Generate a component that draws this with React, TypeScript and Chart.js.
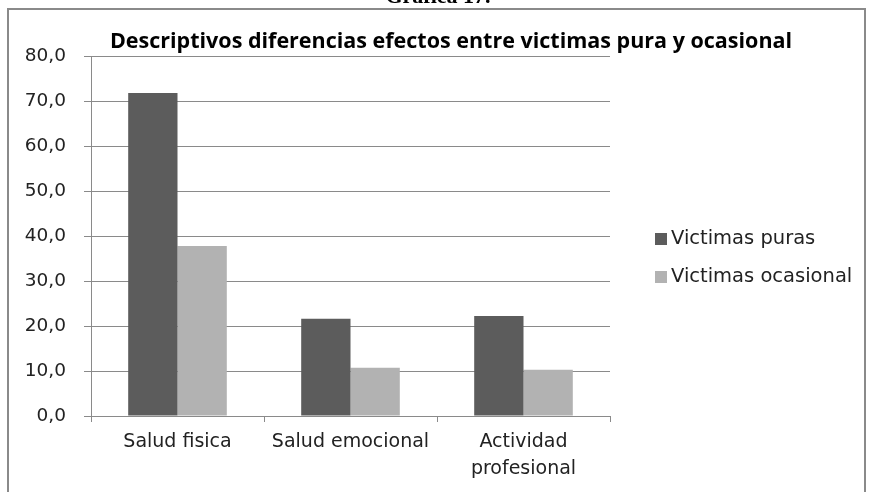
import React, { useEffect, useRef } from "react";
import { Chart, registerables } from "chart.js";

Chart.register(...registerables);

const categories: (string | string[])[] = ["Salud fisica", "Salud emocional", ["Actividad", "profesional"]];
const seriesNames = ["Victimas puras", "Victimas ocasional"];
const victimasPuras = [71.8, 21.6, 22.2];
const victimasOcasional = [37.8, 10.7, 10.3];
const seriesColors = ["#5c5c5c", "#b2b2b2"];
const chartTitle = "Descriptivos diferencias efectos entre victimas pura y ocasional";
const headerText = "Gráfica 17.";

const W = 869;
const H = 492;
const FONT = "'DejaVu Sans'";

const decorPlugin = {
  id: "decor",
  afterDraw(chart: any) {
    const ctx = chart.ctx as CanvasRenderingContext2D;
    ctx.save();
    // cropped header
    ctx.fillStyle = "#000";
    ctx.font = "bold 22px 'Liberation Serif'";
    ctx.textAlign = "center";
    ctx.textBaseline = "alphabetic";
    ctx.fillText(headerText, 438, 3);
    // frame
    ctx.strokeStyle = "#8a8a8a";
    ctx.lineWidth = 2;
    ctx.beginPath();
    ctx.moveTo(8, H + 2);
    ctx.lineTo(8, 9);
    ctx.lineTo(865, 9);
    ctx.lineTo(865, H + 2);
    ctx.stroke();
    // title
    ctx.fillStyle = "#000";
    ctx.font = "bold 21.5px 'Open Sans'";
    ctx.textAlign = "center";
    ctx.fillText(chartTitle, 451, 48);
    // legend
    const items = chart.data.datasets;
    ctx.font = "19.5px " + FONT;
    ctx.textAlign = "left";
    ctx.textBaseline = "middle";
    const ys = [239, 277];
    items.forEach((ds: any, i: number) => {
      ctx.fillStyle = ds.backgroundColor;
      ctx.fillRect(655, ys[i] - 6, 12, 12);
      ctx.fillStyle = "#222";
      ctx.fillText(ds.label, 671, ys[i]);
    });
    ctx.restore();
  },
};

export default function App() {
  const ref = useRef<HTMLCanvasElement>(null);
  useEffect(() => {
    document.body.style.margin = "0";
    const chart = new Chart(ref.current!, {
      type: "bar",
      data: {
        labels: categories,
        datasets: [
          { label: seriesNames[0], data: victimasPuras, backgroundColor: seriesColors[0] },
          { label: seriesNames[1], data: victimasOcasional, backgroundColor: seriesColors[1] },
        ],
      },
      options: {
        responsive: false,
        animation: false,
        devicePixelRatio: 1,
        layout: { padding: { top: 56, right: 259, left: 0, bottom: 0 } },
        datasets: { bar: { categoryPercentage: 0.57, barPercentage: 1 } },
        plugins: {
          legend: { display: false },
          title: { display: false },
          tooltip: { enabled: false },
        },
        scales: {
          x: {
            afterFit: (s: any) => { s.height = 76; },
            grid: { display: true, drawOnChartArea: false, color: "#8a8a8a", tickLength: 6, offset: true },
            border: { color: "#8a8a8a", width: 1 },
            ticks: { color: "#222", font: { family: FONT, size: 19, lineHeight: 1.4 }, padding: 7, maxRotation: 0 },
          },
          y: {
            min: 0,
            max: 80,
            afterFit: (s: any) => { s.width = 91; },
            grid: { color: "#8a8a8a", tickLength: 7 },
            border: { color: "#8a8a8a", width: 1 },
            ticks: {
              stepSize: 10,
              color: "#222",
              padding: 18,
              font: { family: FONT, size: 18.5 },
              callback: (v: any) => Number(v).toFixed(1).replace(".", ","),
            },
          },
        },
      },
      plugins: [decorPlugin],
    });
    return () => chart.destroy();
  }, []);
  return (
    <div style={{ position: "fixed", left: 0, top: 0, width: W, height: H, background: "#fff" }}>
      <canvas ref={ref} width={W} height={H} style={{ width: W, height: H, display: "block" }} />
    </div>
  );
}
